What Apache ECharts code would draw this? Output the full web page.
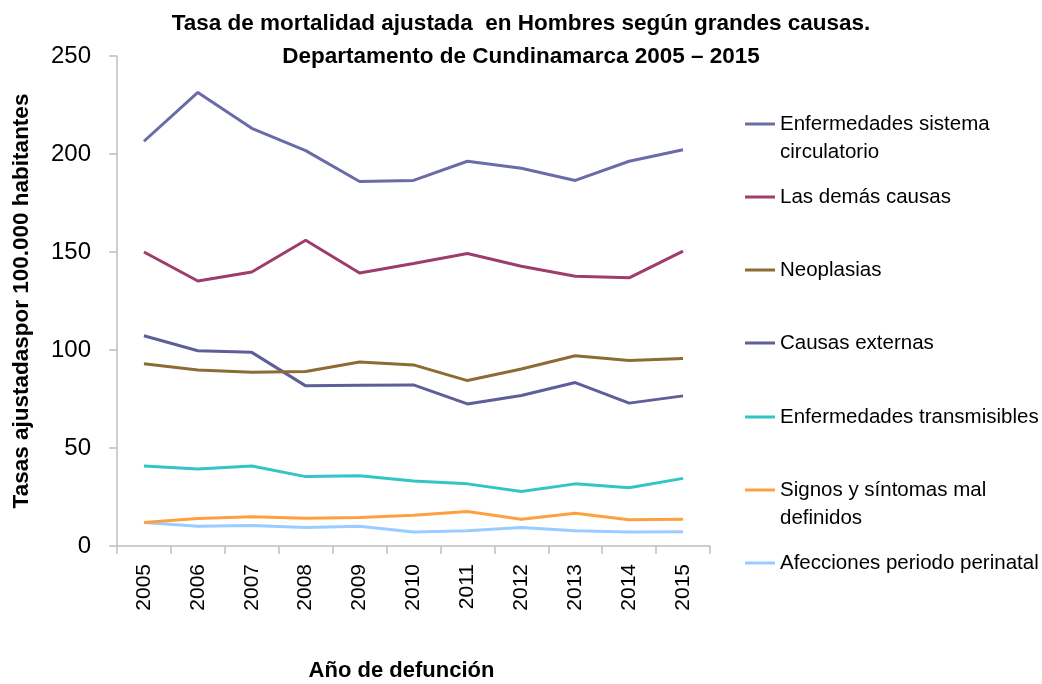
<!DOCTYPE html>
<html>
<head>
<meta charset="utf-8">
<script src="https://cdn.jsdelivr.net/npm/echarts@6/dist/echarts.min.js"></script>
<style>
  html, body { margin: 0; padding: 0; background: #fff; }
  #chart { width: 1042px; height: 684px; }
</style>
</head>
<body>
<div id="chart"></div>
<script>
const years = ["2005", "2006", "2007", "2008", "2009", "2010", "2011", "2012", "2013", "2014", "2015"];

const circulatorio = [206.5, 231.4, 213.1, 201.7, 186.0, 186.5, 196.3, 192.7, 186.5, 196.3, 202.2];
const demasCausas = [150.0, 135.2, 139.8, 156.0, 139.3, 144.1, 149.2, 142.7, 137.6, 136.8, 150.4];
const neoplasias = [93.0, 89.8, 88.7, 89.0, 93.9, 92.4, 84.4, 90.3, 97.1, 94.6, 95.6];
const externas = [107.3, 99.6, 98.8, 81.7, 82.0, 82.2, 72.5, 76.8, 83.4, 72.9, 76.6];
const transmisibles = [40.8, 39.3, 40.8, 35.4, 35.8, 33.2, 31.7, 27.8, 31.7, 29.7, 34.5];
const signos = [12.0, 14.0, 14.9, 14.2, 14.5, 15.7, 17.6, 13.7, 16.7, 13.4, 13.7];
const perinatal = [12.0, 10.1, 10.5, 9.5, 10.1, 7.1, 7.8, 9.5, 7.8, 7.1, 7.3];

const yTicks = [0, 50, 100, 150, 200, 250];

const names = [
  "Enfermedades sistema circulatorio",
  "Las demás causas",
  "Neoplasias",
  "Causas externas",
  "Enfermedades transmisibles",
  "Signos y síntomas mal definidos",
  "Afecciones periodo perinatal"
];
// legend text as drawn in the picture (line breaks)
const legendText = {
  "Enfermedades sistema circulatorio": ["Enfermedades sistema", "circulatorio"],
  "Signos y síntomas mal definidos": ["Signos y síntomas mal", "definidos"]
};
const values = [circulatorio, demasCausas, neoplasias, externas, transmisibles, signos, perinatal];
const colors = ["#6B6BA8", "#9E3C6C", "#8C6B34", "#5E5E98", "#33C5C5", "#FFA040", "#99CCFF"];

const FONT = "'Liberation Sans', Arial, sans-serif";

const LH = 28;
const legendCenters = [124, 197, 270, 343, 417, 490, 563];

const chart = echarts.init(document.getElementById("chart"));

// one legend per entry so the entries sit at equal steps like the original
const legends = names.map((n, i) => {
  const two = !!legendText[n];
  return {
    data: [n],
    orient: "vertical",
    left: 745,
    top: legendCenters[i] - (two ? LH * 1.5 : LH / 2),
    padding: 0,
    icon: "rect",
    itemWidth: 30,
    itemHeight: 3,
    selectedMode: false,
    formatter: function (name) {
      const t = legendText[name];
      return t ? "\u00a0\n" + t.join("\n") : name;
    },
    textStyle: {
      fontFamily: FONT,
      fontSize: 20.5,
      lineHeight: LH,
      color: "#000"
    }
  };
});

chart.setOption({
  animation: false,
  backgroundColor: "#fff",
  title: {
    text: "Tasa de mortalidad ajustada  en Hombres según grandes causas.\nDepartamento de Cundinamarca 2005 – 2015",
    left: "center",
    top: 2,
    textStyle: {
      fontFamily: FONT,
      fontWeight: "bold",
      fontSize: 22.5,
      lineHeight: 33,
      color: "#000"
    }
  },
  legend: legends,
  grid: {
    left: 117,
    right: 332,
    top: 56,
    bottom: 138,
    outerBoundsMode: "none",
    containLabel: false
  },
  xAxis: {
    type: "category",
    data: years,
    boundaryGap: true,
    name: "Año de defunción",
    nameLocation: "middle",
    nameGap: 114,
    nameTextStyle: {
      fontFamily: FONT,
      fontWeight: "bold",
      fontSize: 22,
      color: "#000",
      padding: [0, 24, 0, 0]
    },
    axisLine: { lineStyle: { color: "#BFBFBF", width: 1.5 } },
    axisTick: { show: true, length: 8, alignWithLabel: false, lineStyle: { color: "#BFBFBF", width: 1.5 } },
    axisLabel: {
      rotate: 90,
      margin: 18,
      fontFamily: FONT,
      fontSize: 21,
      color: "#000"
    },
    splitLine: { show: false }
  },
  yAxis: {
    type: "value",
    min: yTicks[0],
    max: yTicks[yTicks.length - 1],
    interval: 50,
    name: "Tasas ajustadaspor 100.000 habitantes",
    nameLocation: "middle",
    nameGap: 84,
    nameTextStyle: {
      fontFamily: FONT,
      fontWeight: "bold",
      fontSize: 22.5,
      color: "#000"
    },
    axisLine: { show: true, lineStyle: { color: "#BFBFBF", width: 1.5 } },
    axisTick: { show: true, length: 8, lineStyle: { color: "#BFBFBF", width: 1.5 } },
    axisLabel: {
      margin: 26,
      fontFamily: FONT,
      fontSize: 24,
      color: "#000"
    },
    splitLine: { show: false }
  },
  series: names.map((n, i) => ({
    name: n,
    type: "line",
    data: values[i],
    symbol: "none",
    z: 10 - i,
    lineStyle: { color: colors[i], width: 3 },
    itemStyle: { color: colors[i] }
  }))
});
</script>
</body>
</html>
